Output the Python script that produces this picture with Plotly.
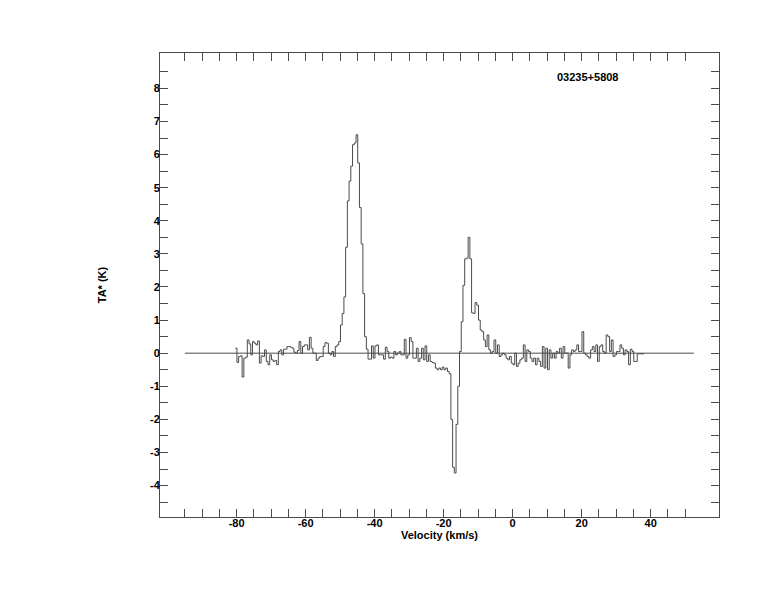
import plotly.graph_objects as go

# Spectrum: channel width and first channel edge (km/s)
v_start = -80.4
dv = 0.5
# Antenna temperature TA* (K) per channel
ta = [
    0.15, -0.28, -0.1, -0.08, -0.72, -0.15, -0.12, 0.4, 0.28, -0.05,
    0.35, 0.3, 0.25, 0.37, -0.3, -0.08, -0.1, 0.1, -0.25, -0.35,
    -0.05, -0.2, -0.25, -0.22, -0.35, 0.05, 0.1, -0.05, 0.12, 0.12,
    0.2, 0.2, 0.18, 0.15, 0.03, 0.0, 0.08, 0.35, 0.0, 0.2,
    0.25, 0.25, 0.1, 0.48, 0.15, 0.0, 0.0, -0.22, -0.15, -0.1,
    -0.1, 0.2, 0.32, 0.3, 0.0, -0.05, 0.05, -0.1, 0.2, 0.25,
    0.35, 0.85, 1.2, 1.7, 3.2, 4.6, 5.2, 5.65, 6.3, 6.35,
    6.6, 5.75, 4.4, 3.3, 1.8, 0.5, 0.12, -0.18, -0.18, 0.22,
    -0.15, 0.22, 0.25, -0.05, -0.05, -0.05, -0.18, 0.18, 0.05, -0.15,
    -0.12, -0.15, 0.05, -0.05, 0.0, 0.05, -0.05, -0.05, 0.42, -0.15,
    -0.05, 0.47, 0.35, -0.15, -0.15, 0.15, -0.25, -0.15, 0.15, -0.2,
    0.22, -0.25, -0.05, -0.25, -0.28, -0.3, -0.45, -0.5, -0.45, -0.5,
    -0.42, -0.5, -0.45, -0.55, -0.62, -2.0, -3.45, -3.62, -2.15, -1.0,
    0.05, 0.95, 2.05, 2.85, 2.87, 3.5, 2.85, 1.22, 1.2, 1.53,
    1.45, 1.0, 0.7, 0.65, 0.4, 0.2, 0.55, 0.1, 0.0, 0.05,
    0.4, 0.0, 0.25, -0.1, -0.05, 0.0, -0.05, -0.15, -0.2, -0.1,
    -0.3, -0.35, 0.0, -0.4, -0.3, -0.2, -0.15, 0.25, -0.25, 0.1,
    0.05, -0.15, -0.25, -0.15, -0.35, -0.15, -0.25, -0.4, 0.2, -0.45,
    0.15, -0.5, 0.1, -0.15, 0.0, -0.15, 0.05, 0.0, 0.15, -0.15,
    0.2, 0.0, 0.0, -0.45, -0.05, 0.1, 0.05, 0.1, 0.25, 0.05,
    0.05, 0.65, 0.0, -0.05, -0.1, -0.15, 0.1, 0.2, 0.05, 0.25,
    -0.25, 0.2, 0.25, 0.05, 0.0, 0.55, 0.5, 0.05, 0.4, -0.1,
    -0.05, 0.05, 0.05, 0.25, 0.15, -0.05, 0.1, 0.05, -0.35, 0.12,
    0.05, -0.25, -0.25, -0.02, -0.02, -0.02, -0.02,
]

# Baseline extent (km/s)
baseline_v = [-95, 52.5]
baseline_t = [0, 0]

# Axis ticks
x_tick_vals = list(range(-95, 51, 5))
x_tick_text = [str(v) if v % 20 == 0 else "" for v in x_tick_vals]
y_tick_vals = [k * 0.5 for k in range(-9, 18)]
y_tick_text = [str(int(v)) if v == int(v) else "" for v in y_tick_vals]

source_name = "03235+5808"
label_pos = (21.7, 8.33)

edges = [v_start + dv * i for i in range(len(ta) + 1)]
vals = ta + [ta[-1]]

LINE = "#4a4a4a"
FONT = "Liberation Sans, Arial, Helvetica, sans-serif"

fig = go.Figure()
fig.add_trace(go.Scatter(x=baseline_v, y=baseline_t, mode="lines",
                         line=dict(color=LINE, width=1), hoverinfo="skip"))
fig.add_trace(go.Scatter(x=edges, y=vals, mode="lines",
                         line=dict(color=LINE, width=1, shape="hv")))

fig.add_annotation(x=label_pos[0], y=label_pos[1], text=source_name,
                   showarrow=False, xref="x", yref="y",
                   font=dict(family=FONT, size=11, color="black", weight="bold"))

axis_common = dict(showline=True, linecolor=LINE, linewidth=1, mirror="ticks",
                   ticks="inside", ticklen=8, tickcolor=LINE, tickwidth=1,
                   showgrid=False, zeroline=False,
                   tickfont=dict(family=FONT, size=11, color="black", weight="bold"))

fig.update_layout(
    width=758, height=596,
    margin=dict(l=151.5, r=46.5, t=44.5, b=86.5),
    paper_bgcolor="white", plot_bgcolor="white",
    showlegend=False,
    font=dict(family=FONT, size=11, color="black"),
    xaxis=dict(range=[-102.2, 59.8], tickmode="array", tickvals=x_tick_vals,
               ticktext=x_tick_text, ticklabelstandoff=-4,
               title=dict(text="Velocity (km/s)", standoff=2,
                          font=dict(family=FONT, size=11, color="black", weight="bold")),
               **axis_common),
    yaxis=dict(range=[-4.95, 9.07], tickmode="array", tickvals=y_tick_vals,
               ticktext=y_tick_text, ticklabelstandoff=-3,
               title=dict(text="TA* (K)", standoff=41,
                          font=dict(family=FONT, size=11, color="black", weight="bold")),
               **axis_common),
)

fig.write_html("out.html")
